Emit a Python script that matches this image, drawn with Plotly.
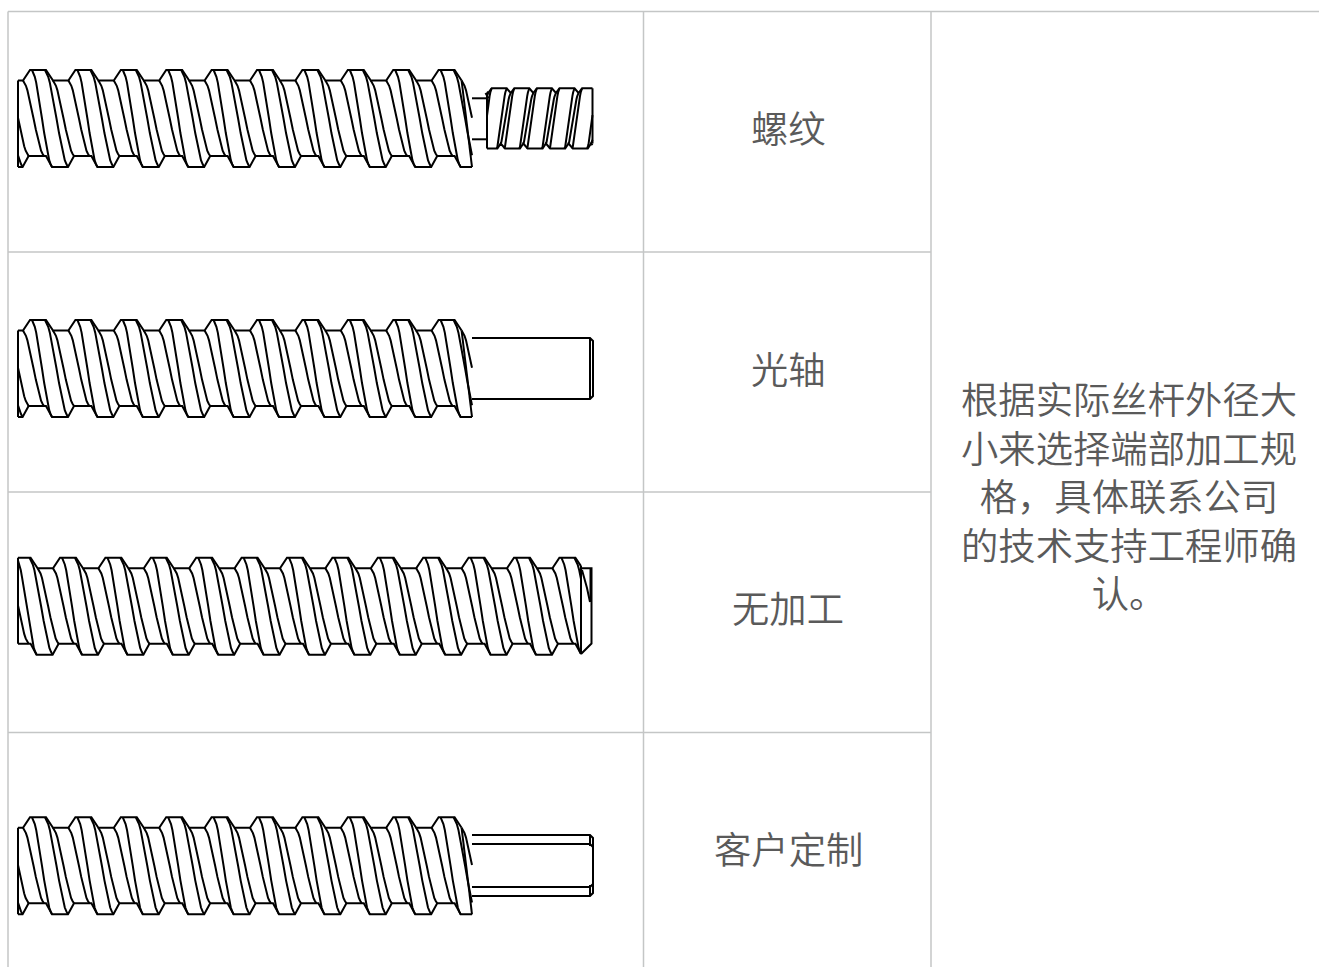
import plotly.graph_objects as go

# ---- table content ----
row_labels = ["螺纹", "光轴", "无加工", "客户定制"]
row_label_y = [127, 368, 607, 848]
note_lines = ["根据实际丝杆外径大", "小来选择端部加工规", "格，具体联系公司", "的技术支持工程师确", "认。"]
grid_x = [8, 643.5, 931]
grid_y = [11.5, 252, 492, 732.5]

# ---- thread crests (left edge of each upper crest flat) ----
crests_a = [-15.4, 30, 75.4, 120.8, 166.2, 211.6, 257, 302.4, 347.8, 393.2, 438.6]
crests_c = [-30.8, 14.6, 60, 105.4, 150.8, 196.2, 241.6, 287, 332.4, 377.8, 423.2, 468.6, 514, 559.4, 604.8]
crests_small = [469.1, 491.7, 514.3, 536.9, 559.5, 582.1, 604.7]
# helix silhouette: (fraction of height, fraction of run)
helix_h = [0, 0.03, 0.07, 0.13, 0.2, 0.35, 0.5, 0.65, 0.8, 0.87, 0.93, 0.97, 1]
helix_r = [0, 0.07, 0.14, 0.21, 0.27, 0.39, 0.5, 0.61, 0.73, 0.79, 0.86, 0.93, 1]
# offset of each screw's drawing from the first one
screw_dy = [0, 250, 487.7, 747.3]


def clip(pts, xl, xr):
    out = []
    for p, q in zip(pts, pts[1:]):
        (x0, y0), (x1, y1) = p, q
        if (x0 < xl and x1 < xl) or (x0 > xr and x1 > xr):
            continue
        def at(x):
            return (x, y0 + (y1 - y0) * (x - x0) / (x1 - x0))
        a = p if xl <= x0 <= xr else at(xl if x0 < xl else xr)
        b = q if xl <= x1 <= xr else at(xl if x1 < xl else xr)
        if not out or out[-1] != a:
            out.append(a)
        out.append(b)
    return out


xs, ys = [], []


def add(pts):
    if len(pts) < 2:
        return
    xs.extend(p[0] for p in pts)
    ys.extend(p[1] for p in pts)
    xs.append(None)
    ys.append(None)


def helix(x0, y0, x1, y1):
    return [(x0 + (x1 - x0) * r, y0 + (y1 - y0) * h) for h, r in zip(helix_h, helix_r)]


def big_thread(crests, dy, xl, xr, top=70, tr=80.5, br=156, bot=167):
    top_pts, bot_pts = [], []
    for c in crests:
        top_pts += [(c - 7, tr + dy), (c, top + dy), (c + 16, top + dy), (c + 23, tr + dy)]
        bot_pts += [(c + 16, br + dy), (c + 22, bot + dy), (c + 38, bot + dy), (c + 44, br + dy)]
    top_pts = clip(top_pts, xl, xr)
    bot_pts = clip(bot_pts, xl, xr)
    add(top_pts)
    add(bot_pts)
    add([top_pts[0], bot_pts[0]])
    for c in crests:
        add(clip(helix(c - 7, tr + dy, c + 14, br + dy), xl, xr))
        add(clip(helix(c + 2, top + dy, c + 22, bot + dy), xl, xr))
        add(clip(helix(c + 15, top + dy, c + 38, bot + dy), xl, xr))
        add(clip(helix(c + 23, tr + dy, c + 44, br + dy), xl, xr))
    return top_pts, bot_pts


# --- screw 1: threaded end
t, b = big_thread(crests_a, screw_dy[0], 18, 472)
add([t[-1], b[-1]])
add([(472, 98.3), (487, 98.3)])
add([(472, 139.3), (487, 139.3)])
xl, xr = 487, 592.5
tp, bp = [], []
for c in crests_small:
    tp += [(c - 3.6, 93), (c, 88.3), (c + 15, 88.3), (c + 19, 93)]
    bp += [(c + 9, 143.5), (c + 13.3, 148.5), (c + 28.3, 148.5), (c + 31.6, 143.5)]
tp, bp = clip(tp, xl, xr), clip(bp, xl, xr)
add(tp)
add(bp)
add([(487, 93), (487, 148.5)])
add([(592.5, 88.3), (592.5, 143.5)])
add([(485.5, 93), (488.5, 98.3)])
for c in crests_small:
    add(clip(helix(c, 88.3, c - 10, 148.5), xl, xr))
    add(clip(helix(c + 15, 88.3, c + 5, 148.5), xl, xr))
    add(clip(helix(c + 19, 93, c + 9, 143.5), xl, xr))

# --- screw 2: plain shaft
t, b = big_thread(crests_a, screw_dy[1], 18, 472)
add([t[-1], b[-1]])
add([(472, 338), (590, 338), (593, 341), (593, 396), (590, 399), (472, 399)])
add([(590, 338), (590, 399)])

# --- screw 3: as-cut end
t, b = big_thread(crests_c, screw_dy[2], 18, 581)
add([t[-1], b[-1]])
add([(581, 568.3), (591.5, 568.3), (591.5, 643.5), (581, 654)])
add([(582, 570), (587, 588), (590, 602)])
add([(590.5, 568.3), (590.5, 602)])

# --- screw 4: hex end
t, b = big_thread(crests_a, screw_dy[3], 18, 472)
add([t[-1], b[-1]])
add([(472, 835), (590, 835), (593, 838), (593, 893), (590, 896), (472, 896)])
add([(472, 844), (590, 844), (593, 847)])
add([(472, 887), (590, 887), (593, 884)])
add([(590, 835), (590, 846)])
add([(590, 885), (590, 896)])

grid_xs, grid_ys = [], []
for gy in grid_y:
    x0 = grid_x[0]
    x1 = grid_x[2] if gy in grid_y[1:] else 1319
    grid_xs += [x0, x1, None]
    grid_ys += [gy, gy, None]
for gx in grid_x:
    grid_xs += [gx, gx, None]
    grid_ys += [grid_y[0], 967, None]

fig = go.Figure()
fig.add_trace(go.Scatter(x=grid_xs, y=grid_ys, mode="lines", hoverinfo="skip",
                         line=dict(color="#c4c6c6", width=1.5)))
fig.add_trace(go.Scatter(x=xs, y=ys, mode="lines", hoverinfo="skip",
                         line=dict(color="#000000", width=2)))

FONT = dict(family="Noto Sans CJK SC", size=37.33, color="#5a5a5a", weight=350)
annotations = []
for label, y in zip(row_labels, row_label_y):
    annotations.append(dict(x=788, y=y, text=label, showarrow=False, xref="x", yref="y",
                            xanchor="center", yanchor="middle", font=FONT))
annotations.append(dict(x=1129, y=494.5, text="<br>".join(note_lines), showarrow=False,
                        xref="x", yref="y", xanchor="center", yanchor="middle", align="center",
                        font=FONT))

fig.update_layout(
    width=1319, height=967, autosize=False,
    margin=dict(l=0, r=0, t=0, b=0, pad=0),
    paper_bgcolor="white", plot_bgcolor="white", showlegend=False,
    xaxis=dict(range=[0, 1319], visible=False, fixedrange=True),
    yaxis=dict(range=[967, 0], visible=False, fixedrange=True),
    annotations=annotations,
)
fig.write_html("out.html", config={"displayModeBar": False},
               post_script="document.body.style.margin='0';document.body.style.overflow='hidden';")
